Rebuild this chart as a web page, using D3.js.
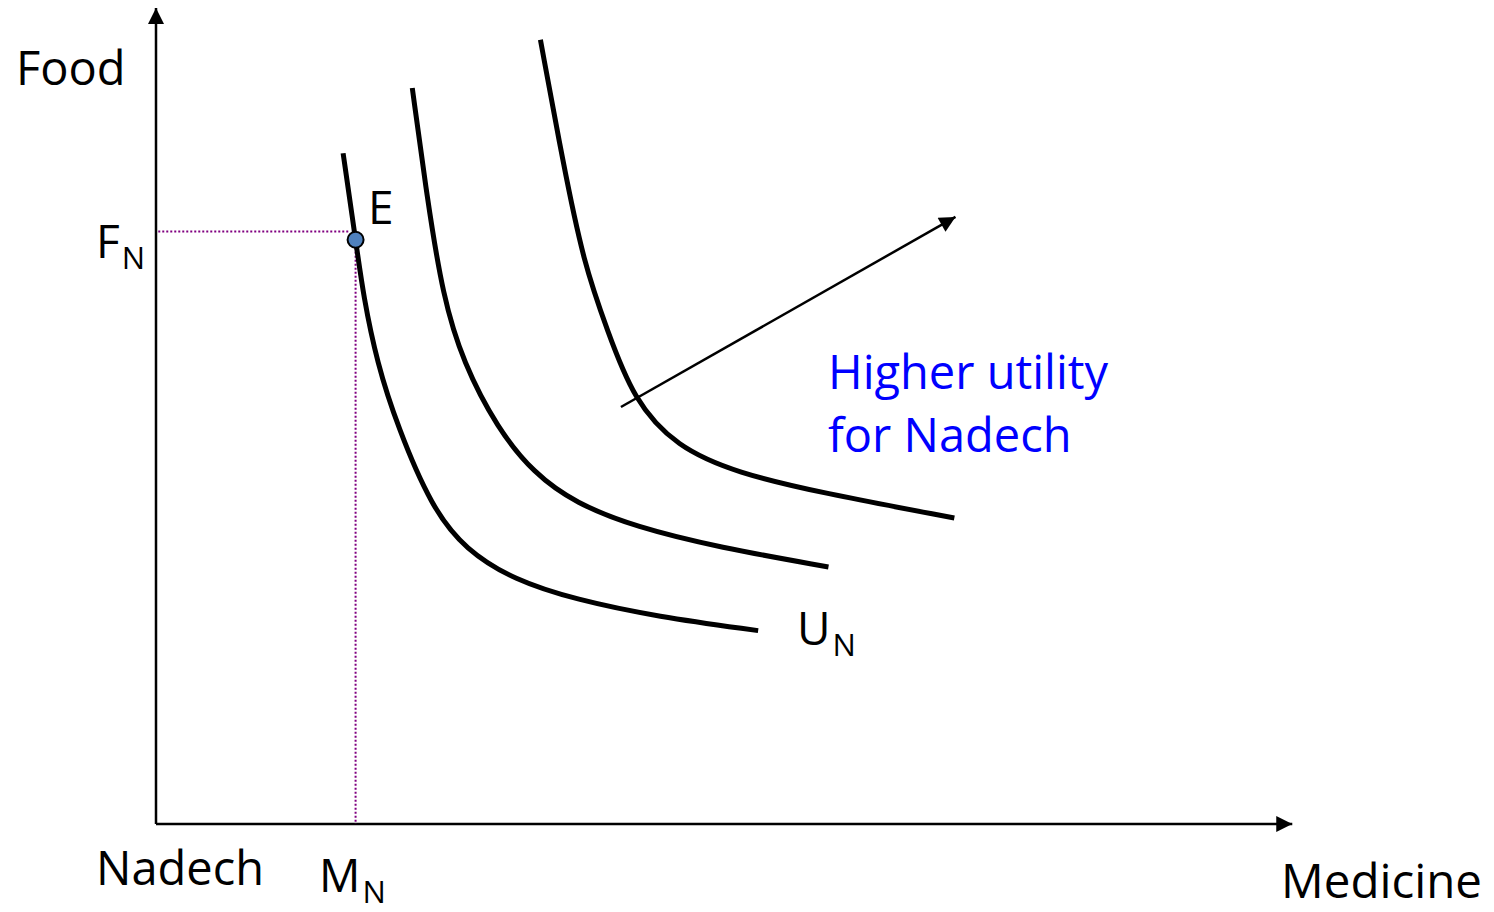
<!DOCTYPE html>
<meta charset="utf-8">
<title>Indifference curves - Nadech</title>
<style>
  body { margin: 0; background: #fff; }
  svg text { font-family: "Open Sans", "Noto Sans", sans-serif; fill: #000; }
  .curve { fill: none; stroke: #000; stroke-width: 5px; }
  .axis-line { stroke: #000; stroke-width: 2.5px; }
  .guide { stroke: #800080; stroke-width: 2px; stroke-dasharray: 2, 2; }
</style>
<body>
<svg width="1494" height="912"></svg>
<script src="https://d3js.org/d3.v7.min.js"></script>
<script>
  // indifference curves, medicine (x) vs food (y), in axis units 0..100
  var curveLow = [[16.5, 82.2], [17.6, 71.6], [18.3, 64.6], [19.5, 56.5], [21.3, 48.7], [24.3, 38.8],
    [27.3, 33.6], [31.6, 29.9], [37.0, 27.5], [44.2, 25.4], [53.1, 23.7]];
  var curveMid = [[22.6, 90.2], [23.9, 76.8], [25.3, 64.6], [27.1, 56.5], [30.1, 48.5], [33.3, 43.0],
    [37.0, 39.3], [42.3, 36.4], [49.6, 33.9], [59.3, 31.5]];
  var curveHigh = [[33.9, 96.1], [35.9, 81.0], [37.7, 68.8], [39.8, 60.5], [42.1, 52.0], [45.9, 46.2],
    [51.3, 43.0], [58.6, 40.6], [70.4, 37.5]];

  // optimum E and the guide values
  var pointE = [17.6, 71.6];
  var foodN = 72.6;
  var medN = 17.6;

  // "higher utility" arrow
  var utilityArrow = [[41.0, 51.1], [70.5, 74.4]];

  var svg = d3.select("svg");

  var x = d3.scaleLinear().domain([0, 100]).range([156, 1290]);
  var y = d3.scaleLinear().domain([0, 100]).range([824, 8]);

  // arrowhead markers
  var defs = svg.append("defs");
  defs.append("marker")
    .attr("id", "head")
    .attr("viewBox", "0 0 10 10")
    .attr("refX", 10).attr("refY", 5)
    .attr("markerUnits", "userSpaceOnUse")
    .attr("markerWidth", 18).attr("markerHeight", 16)
    .attr("orient", "auto")
    .append("path")
    .attr("d", "M0,0 L10,5 L0,10 Z")
    .attr("fill", "#000");

  // axes
  svg.append("line").attr("class", "axis-line")
    .attr("x1", x(0)).attr("y1", y(0))
    .attr("x2", x(0)).attr("y2", y(100))
    .attr("marker-end", "url(#head)");
  svg.append("line").attr("class", "axis-line")
    .attr("x1", x(0)).attr("y1", y(0))
    .attr("x2", x(100.2)).attr("y2", y(0))
    .attr("marker-end", "url(#head)");

  // dotted guides to E
  svg.append("line").attr("class", "guide")
    .attr("x1", x(0.2)).attr("y1", y(foodN))
    .attr("x2", x(medN - 0.5)).attr("y2", y(foodN));
  svg.append("line").attr("class", "guide")
    .attr("x1", x(medN)).attr("y1", y(pointE[1]))
    .attr("x2", x(medN)).attr("y2", y(0));

  var line = d3.line()
    .x(function (d) { return x(d[0]); })
    .y(function (d) { return y(d[1]); })
    .curve(d3.curveBasis);

  svg.selectAll(".curve")
    .data([curveLow, curveMid, curveHigh])
    .enter().append("path")
    .attr("class", "curve")
    .attr("d", line);

  // utility arrow
  svg.append("line")
    .attr("x1", x(utilityArrow[0][0])).attr("y1", y(utilityArrow[0][1]))
    .attr("x2", x(utilityArrow[1][0])).attr("y2", y(utilityArrow[1][1]))
    .attr("stroke", "#000").attr("stroke-width", 2.5)
    .attr("marker-end", "url(#head)");

  // point E
  svg.append("circle")
    .attr("cx", x(pointE[0])).attr("cy", y(pointE[1]))
    .attr("r", 8)
    .attr("fill", "#4f81bd")
    .attr("stroke", "#000")
    .attr("stroke-width", 2);

  // labels
  function label(tx, ty, main, sub, size, color) {
    var t = svg.append("text")
      .attr("x", tx).attr("y", ty)
      .style("font-size", size + "px")
      .style("fill", color || "#000")
      .text(main);
    if (sub) {
      t.append("tspan")
        .attr("dx", 2).attr("dy", 11)
        .style("font-size", "31px")
        .text(sub);
    }
    return t;
  }

  label(16, 85, "Food", null, 47);
  label(96, 258, "F", "N", 46);
  label(368, 224, "E", null, 46);
  label(797, 645, "U", "N", 46);
  label(96, 885, "Nadech", null, 47);
  label(319, 892, "M", "N", 46);
  label(1281, 898, "Medicine", null, 47.5);
  label(828, 389, "Higher utility", null, 47, "#0000ff");
  label(828, 452, "for Nadech", null, 47, "#0000ff");
</script>
</body>
